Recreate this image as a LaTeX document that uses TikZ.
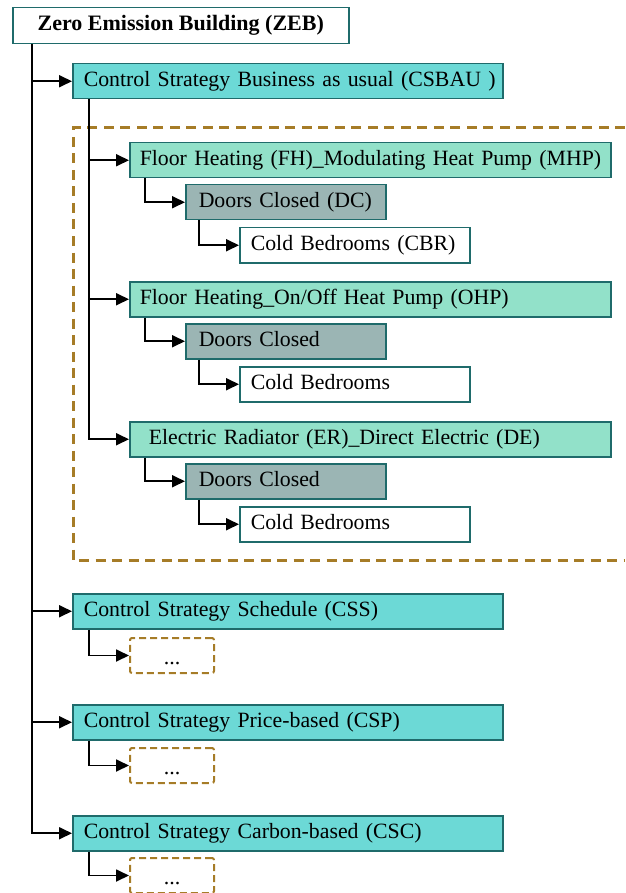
\documentclass[tikz,border=0pt]{standalone}
\usepackage{fontspec}
\setmainfont{Liberation Serif}
\usetikzlibrary{arrows.meta}

\definecolor{edgeteal}{HTML}{1F6B6B}
\definecolor{csfill}{HTML}{6CD9D6}
\definecolor{hpfill}{HTML}{92E1C9}
\definecolor{dcfill}{HTML}{9BB5B4}
\definecolor{framebrown}{HTML}{A67C27}

\tikzset{
  box/.style={draw=edgeteal, line width=1.5pt, anchor=north west, minimum height=35pt,
    inner ysep=0pt, text height=15pt, text depth=5pt, align=left,
    font=\fontsize{21.8}{26}\selectfont},
  strat/.style={box, fill=csfill, inner xsep=11pt, text width=408pt},
  heat/.style={box, fill=hpfill, inner xsep=10pt, text width=461pt},
  door/.style={box, fill=dcfill, inner xsep=13pt, text width=174pt},
  room/.style={box, fill=white, inner xsep=11pt, text width=208pt},
  more/.style={draw=framebrown, line width=2pt, dash pattern=on 7pt off 4pt,
    rounded corners=2pt, anchor=north west, minimum width=84pt, minimum height=35pt,
    inner sep=0pt, text height=19pt, text depth=1pt, font=\fontsize{22}{26}\selectfont},
  link/.style={line width=1.8pt, -{Triangle[length=13pt,width=12pt]}},
  group/.style={draw=framebrown, line width=3pt, dash pattern=on 10pt off 6.5pt}
}

\begin{document}
\begin{tikzpicture}[x=1pt,y=-1pt]
\useasboundingbox (0,0) rectangle (625,893);

% root
\node[box, fill=white, minimum width=336pt, minimum height=36pt, align=center,
  font={\fontsize{22}{26}\selectfont\bfseries}] (zeb) at (12,7) {Zero Emission Building (ZEB)};

% control strategies
\node[strat] (csbau) at (72,63) {\mbox{Control Strategy Business as usual (CSBAU )}};
\node[strat] (css) at (72,593) {Control Strategy Schedule (CSS)};
\node[strat] (csp) at (72,704) {Control Strategy Price-based (CSP)};
\node[strat] (csc) at (72,815) {Control Strategy Carbon-based (CSC)};

% heating systems under CSBAU
\draw[group] (625,128) -- (73,128) -- (73,560) -- (625,560);

\node[heat] (mhp) at (129,142) {\mbox{Floor Heating (FH)\_Modulating Heat Pump (MHP)}};
\node[door] (dc1) at (185,184) {\mbox{Doors Closed (DC)}};
\node[room] (cbr1) at (239,227) {Cold Bedrooms (CBR)};

\node[heat] (ohp) at (129,281) {Floor Heating\_On/Off Heat Pump (OHP)};
\node[door] (dc2) at (185,323) {Doors Closed};
\node[room] (cbr2) at (239,366) {Cold Bedrooms};

\node[heat] (de) at (129,421) {\hspace*{9pt}Electric Radiator (ER)\_Direct Electric (DE)};
\node[door] (dc3) at (185,463) {Doors Closed};
\node[room] (cbr3) at (239,506) {Cold Bedrooms};

% placeholders
\node[more] (cssmore) at (129,637) {...};
\node[more] (cspmore) at (129,747) {...};
\node[more] (cscmore) at (129,857) {...};

% connectors
\coordinate (trunk) at (32,0);
\coordinate (sub) at (89,0);

\draw[link] (trunk |- zeb.south) |- (csbau.west);
\draw[link] (trunk |- zeb.south) |- (css.west);
\draw[link] (trunk |- zeb.south) |- (csp.west);
\draw[link] (trunk |- zeb.south) |- (csc.west);

\draw[link] (sub |- csbau.south) |- (mhp.west);
\draw[link] (sub |- csbau.south) |- (ohp.west);
\draw[link] (sub |- csbau.south) |- (de.west);

\draw[link] ([xshift=16pt]mhp.south west) |- (dc1.west);
\draw[link] ([xshift=14pt]dc1.south west) |- (cbr1.west);
\draw[link] ([xshift=16pt]ohp.south west) |- (dc2.west);
\draw[link] ([xshift=14pt]dc2.south west) |- (cbr2.west);
\draw[link] ([xshift=16pt]de.south west) |- (dc3.west);
\draw[link] ([xshift=14pt]dc3.south west) |- (cbr3.west);

\draw[link] (sub |- css.south) |- (cssmore.west);
\draw[link] (sub |- csp.south) |- (cspmore.west);
\draw[link] (sub |- csc.south) |- (cscmore.west);
\end{tikzpicture}
\end{document}
